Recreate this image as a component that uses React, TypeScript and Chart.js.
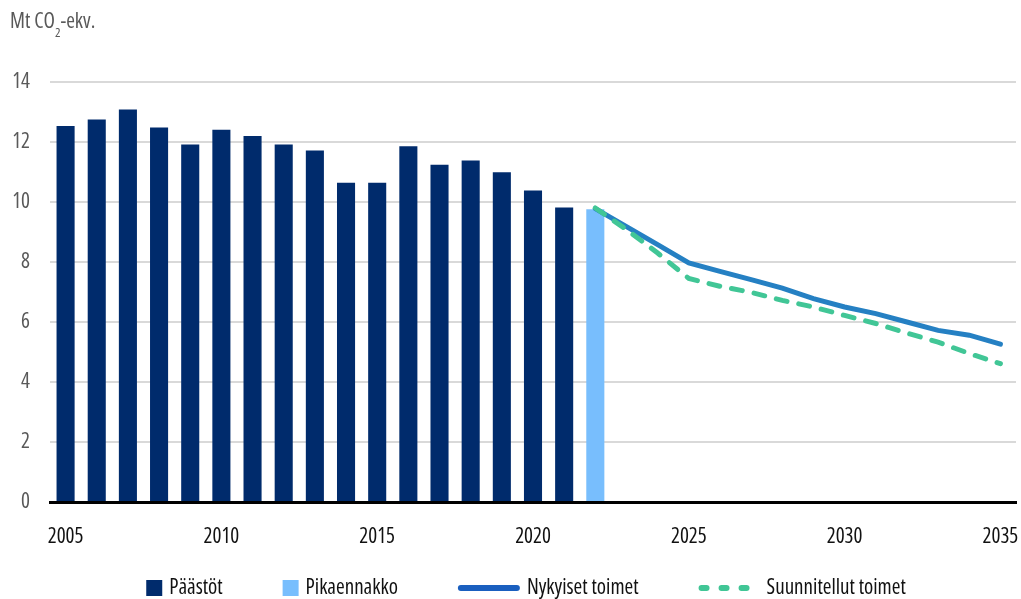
import React, { useEffect, useRef } from "react";
import { Chart, registerables } from "chart.js";

Chart.register(...registerables);

const years: string[] = [];
for (let y = 2005; y <= 2035; y++) years.push(String(y));

const emissionYears = ["2005","2006","2007","2008","2009","2010","2011","2012","2013","2014","2015","2016","2017","2018","2019","2020","2021"];
const emissions = [12.53, 12.75, 13.08, 12.48, 11.92, 12.41, 12.2, 11.92, 11.72, 10.64, 10.64, 11.86, 11.24, 11.38, 10.99, 10.38, 9.82];
const flashYears = ["2022"];
const flashEstimate = [9.76];
const projectionYears = ["2022","2023","2024","2025","2026","2027","2028","2029","2030","2031","2032","2033","2034","2035"];
const currentMeasures = [9.78, 9.18, 8.58, 7.97, 7.69, 7.41, 7.13, 6.78, 6.5, 6.28, 6.0, 5.72, 5.56, 5.26];
const plannedMeasures = [9.8, 9.08, 8.3, 7.45, 7.19, 6.99, 6.72, 6.5, 6.22, 5.95, 5.63, 5.33, 4.95, 4.61];
const yTicks = [0, 2, 4, 6, 8, 10, 12, 14];

const seriesNames = ["Päästöt", "Pikaennakko", "Nykyiset toimet", "Suunnitellut toimet"];
const NAVY = "#002b6c";
const LIGHT = "#78befd";
const BLUE = "#2580c3";
const BLUE_LEGEND = "#1a5fbf";
const GREEN = "#41c696";
const FAMILY = '"Open Sans", "DejaVu Sans", sans-serif';
const STRETCH = "condensed";
const SIZE = 21;
const fontStr = (size: number) => `${STRETCH} ${size}px ${FAMILY}`;

function toSeries(keys: string[], vals: number[]): (number | null)[] {
  return years.map((y) => {
    const i = keys.indexOf(y);
    return i >= 0 ? vals[i] : null;
  });
}

const titlePlugin = {
  id: "unitTitle",
  afterDraw(chart: any) {
    const ctx = chart.ctx;
    ctx.save();
    ctx.fillStyle = "#595959";
    ctx.textBaseline = "middle";
    ctx.font = fontStr(SIZE);
    let x = 10;
    const y = 22;
    ctx.fillText("Mt CO", x, y);
    x += ctx.measureText("Mt CO").width;
    ctx.font = fontStr(13);
    ctx.fillText("2", x, y + 11);
    x += ctx.measureText("2").width;
    ctx.font = fontStr(SIZE);
    ctx.fillText("-ekv.", x, y);
    ctx.restore();
  },
};

const legendPlugin = {
  id: "customLegend",
  afterDraw(chart: any) {
    const ctx = chart.ctx;
    ctx.save();
    ctx.font = fontStr(SIZE);
    ctx.textBaseline = "middle";
    const items = [
      { kind: "box", color: NAVY, text: seriesNames[0], w: 16 },
      { kind: "box", color: LIGHT, text: seriesNames[1], w: 16 },
      { kind: "line", color: BLUE_LEGEND, text: seriesNames[2], w: 62 },
      { kind: "dash", color: GREEN, text: seriesNames[3], w: 61 },
    ];
    const gapSw = 7;
    const gapItem = 60;
    let total = 0;
    items.forEach((it, i) => {
      total += it.w + gapSw + ctx.measureText(it.text).width + (i < items.length - 1 ? gapItem : 0);
    });
    let x = 526 - total / 2;
    const y = 588;
    items.forEach((it) => {
      if (it.kind === "box") {
        ctx.fillStyle = it.color;
        ctx.fillRect(x, y - 8, 16, 16);
      } else if (it.kind === "line") {
        ctx.strokeStyle = it.color;
        ctx.lineWidth = 6;
        ctx.lineCap = "round";
        ctx.beginPath();
        ctx.moveTo(x + 3, y);
        ctx.lineTo(x + it.w - 3, y);
        ctx.stroke();
      } else {
        ctx.strokeStyle = it.color;
        ctx.lineWidth = 6;
        ctx.lineCap = "round";
        ctx.setLineDash([5, 15]);
        ctx.beginPath();
        ctx.moveTo(x + 3, y);
        ctx.lineTo(x + it.w - 3, y);
        ctx.stroke();
        ctx.setLineDash([]);
      }
      x += it.w + gapSw;
      ctx.fillStyle = "#111";
      ctx.fillText(it.text, x, y);
      x += ctx.measureText(it.text).width + gapItem;
    });
    ctx.restore();
  },
};

export default function App() {
  const ref = useRef<HTMLCanvasElement | null>(null);
  useEffect(() => {
    if (!ref.current) return;
    const tickFont = { family: FAMILY, size: SIZE, weight: STRETCH as any };
    const chart = new Chart(ref.current, {
      type: "bar",
      data: {
        labels: years,
        datasets: [
          {
            type: "line",
            label: seriesNames[3],
            data: toSeries(projectionYears, plannedMeasures),
            borderColor: GREEN,
            backgroundColor: GREEN,
            borderWidth: 5,
            borderDash: [11, 12],
            borderCapStyle: "round",
            pointRadius: 0,
            tension: 0,
            order: 0,
          } as any,
          {
            type: "line",
            label: seriesNames[2],
            data: toSeries(projectionYears, currentMeasures),
            borderColor: BLUE,
            backgroundColor: BLUE,
            borderWidth: 5,
            borderCapStyle: "round",
            pointRadius: 0,
            tension: 0,
            order: 1,
          } as any,
          {
            type: "bar",
            label: seriesNames[0],
            data: toSeries(emissionYears, emissions),
            backgroundColor: NAVY,
            grouped: false,
            categoryPercentage: 1,
            barPercentage: 0.58,
            order: 2,
          } as any,
          {
            type: "bar",
            label: seriesNames[1],
            data: toSeries(flashYears, flashEstimate),
            backgroundColor: LIGHT,
            grouped: false,
            categoryPercentage: 1,
            barPercentage: 0.58,
            order: 2,
          } as any,
        ],
      },
      options: {
        animation: false,
        responsive: true,
        maintainAspectRatio: false,
        layout: { padding: { top: 82, left: 0, right: 5, bottom: 52 } },
        plugins: {
          legend: { display: false },
          tooltip: { enabled: false },
          title: { display: false },
        },
        scales: {
          x: {
            offset: true,
            grid: { display: false, drawTicks: false },
            border: { display: true, color: "#000", width: 3 },
            ticks: {
              autoSkip: false,
              maxRotation: 0,
              padding: 22,
              color: "#111",
              font: tickFont,
              callback: (_v: any, i: number) => (Number(years[i]) % 5 === 0 ? years[i] : ""),
            },
            afterFit: (s: any) => {
              s.height = 45;
              s.paddingLeft = 0;
              s.paddingRight = 0;
            },
          },
          y: {
            min: 0,
            max: 14,
            afterBuildTicks: (s: any) => {
              s.ticks = yTicks.map((v) => ({ value: v }));
            },
            grid: {
              drawTicks: false,
              lineWidth: 2,
              color: (c: any) => (c.tick && c.tick.value === 0 ? "rgba(0,0,0,0)" : "#d9d9d9"),
            },
            border: { display: false },
            ticks: {
              padding: 20,
              color: "#595959",
              font: tickFont,
            },
            afterFit: (s: any) => {
              s.width = 50;
              s.paddingTop = 0;
              s.paddingBottom = 0;
            },
          },
        },
      },
      plugins: [titlePlugin, legendPlugin],
    });
    return () => chart.destroy();
  }, []);
  return (
    <div style={{ position: "fixed", left: 0, top: 0, width: 1021, height: 599, background: "#fff" }}>
      <canvas ref={ref} />
    </div>
  );
}
